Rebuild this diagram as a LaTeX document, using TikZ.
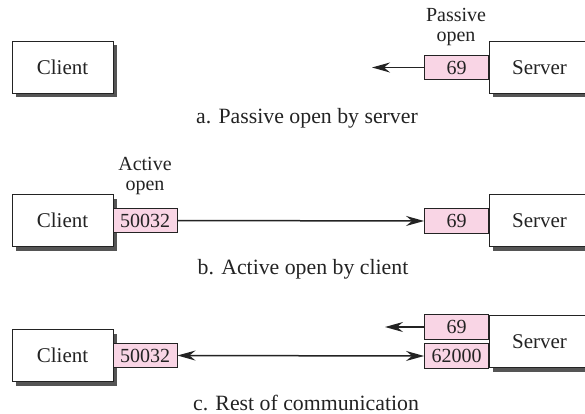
\documentclass[tikz,border=0pt]{standalone}
\usepackage{fontspec}
\setmainfont{Liberation Serif}
\usetikzlibrary{shadows,arrows.meta}
\definecolor{portpink}{RGB}{249,213,229}
\definecolor{shadowgray}{RGB}{85,85,85}
\definecolor{ink}{RGB}{35,35,35}
\begin{document}
\begin{tikzpicture}[x=1pt,y=-1pt,
  every node/.style={font=\rmfamily\fontsize{20}{20}\selectfont, text=ink},
  hostbox/.style={draw=ink, line width=0.9pt, fill=white, minimum width=101pt,
    minimum height=52pt, inner sep=0pt, font=\rmfamily\fontsize{21}{21}\selectfont,
    drop shadow={shadow xshift=4pt, shadow yshift=-4pt, fill=shadowgray, opacity=1}},
  portbox/.style={draw=ink, line width=0.9pt, fill=portpink, minimum width=64pt,
    minimum height=24.5pt, inner sep=0pt},
  conn/.style={draw=ink, line width=1.5pt,
    -{Stealth[length=18pt,width=10pt,inset=6pt]}},
  conntwo/.style={draw=ink, line width=1.5pt,
    {Stealth[length=18pt,width=10pt,inset=6pt]}-{Stealth[length=18pt,width=10pt,inset=6pt]}},
  caption/.style={font=\rmfamily\fontsize{21.8}{22}\selectfont},
  tag/.style={align=center}
]
\useasboundingbox (0,0) rectangle (585,414);

% a. Passive open by server
\node[hostbox] (ca) at (62.5,67) {Client};
\node[hostbox] (sa) at (539.5,67.5) {Server};
\node[portbox] (pa) at (456.5,67.5) {69};
\coordinate (ea) at (372,67.5);
\draw[conn] (pa.west) -- (ea);
\node[tag] (lpa) at (456,27) {Passive\\open};
\node[caption] (capa) at (307,118) {a. Passive open by server};

% b. Active open by client
\node[hostbox] (cb) at (62.5,220.5) {Client};
\node[hostbox] (sb) at (539.5,220.5) {Server};
\node[portbox] (qb) at (145,220.5) {50032};
\node[portbox] (pb) at (456.5,221) {69};
\draw[conn] (qb.east) -- (pb.west);
\node[tag] (lqb) at (145,176) {Active\\open};
\node[caption] (capb) at (303,269) {b. Active open by client};

% c. Rest of communication
\node[hostbox] (cc) at (62.5,355.5) {Client};
\node[hostbox] (sc) at (539.5,341.5) {Server};
\node[portbox] (qc) at (145,355.5) {50032};
\node[portbox] (pc1) at (456.5,327) {69};
\node[portbox] (pc2) at (456.5,356) {62000};
\draw[conntwo] (qc.east) -- (pc2.west);
\coordinate (ec) at (385,327);
\draw[conn] (pc1.west) -- (ec);
\node[caption] (capc) at (306,403) {c. Rest of communication};
\end{tikzpicture}
\end{document}
